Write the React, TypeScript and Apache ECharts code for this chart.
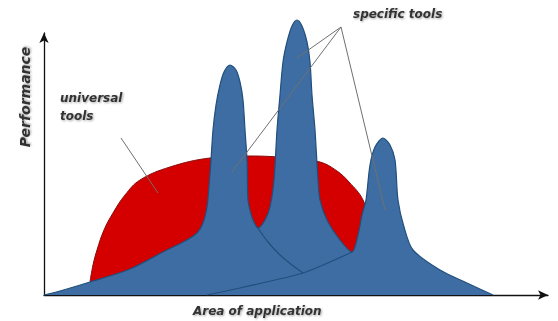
import React, { useEffect, useRef } from "react";
import * as echarts from "echarts";

// Universal tools (red dome): [area of application, performance]
const redX = [46, 49, 53, 60, 69, 81, 96, 126, 166, 206, 246, 276, 293, 305, 319, 328, 331];
const redY = [13, 30, 45, 65, 82, 100, 115, 128, 137, 139, 137, 133, 124, 113, 95, 65, 35];

// Specific tools (blue peaks) outline
const blueX = [0, 16, 46, 86, 119, 141, 153, 159, 163, 165, 167, 169, 172, 176, 180, 186, 192, 196, 199, 201, 203, 204, 207, 210, 214, 221, 226, 230, 233, 236, 239, 243, 248, 253, 258, 263, 266, 268, 271, 274, 276, 283, 296, 308, 314, 318, 322, 326, 331, 339, 346, 351, 354, 360, 369, 396, 423, 449];
const blueY = [0, 4, 13, 26, 43, 54, 62, 72, 88, 108, 135, 165, 190, 210, 223, 230, 225, 213, 195, 165, 135, 95, 81, 73, 67, 75, 88, 115, 165, 200, 233, 253, 269, 275, 269, 253, 233, 200, 165, 115, 95, 75, 55, 43, 60, 80, 95, 130, 148, 157, 150, 135, 95, 68, 45, 25, 12, 0];

// Inner outlines of overlapping peaks
const inner1X = [214, 224, 236, 248, 259];
const inner1Y = [67, 53, 40, 30, 22];
const inner2X = [163, 196, 231, 259, 286, 308];
const inner2Y = [0, 7, 15, 22, 33, 43];

// Annotation leader lines
const leaderUniversalX = [77, 114];
const leaderUniversalY = [157, 102];
const leaderSpecificX = [[297, 253], [297, 188], [297, 341]];
const leaderSpecificY = [[268, 237], [268, 123], [268, 85]];

const xTitle = "Area of application";
const yTitle = "Performance";
const universalLabel = ["universal", "tools"];
const specificLabel = "specific tools";

const zip = (xs: number[], ys: number[]) => xs.map((x, i) => [x, ys[i]]);

export default function App() {
  const ref = useRef<HTMLDivElement>(null);
  useEffect(() => {
    const chart = echarts.init(ref.current!, undefined, { renderer: "svg" });
    const font = "DejaVu Sans, Verdana, sans-serif";
    const txtStyle = {
      fontFamily: font,
      fontWeight: "bold" as const,
      fontStyle: "italic" as const,
      fontSize: 12,
      fill: "#333",
      textShadowColor: "rgba(0,0,0,0.35)",
      textShadowBlur: 2,
      textShadowOffsetX: 1,
      textShadowOffsetY: 1,
    };
    const leaders = leaderSpecificX.map((xs, i) => ({
      type: "line",
      data: zip(xs, leaderSpecificY[i]),
      showSymbol: false,
      clip: false,
      silent: true,
      lineStyle: { color: "#707070", width: 1 },
      z: 5,
    }));
    chart.setOption({
      animation: false,
      grid: { left: 44, right: 10, top: 33, bottom: 26 },
      xAxis: {
        type: "value",
        min: 0,
        max: 504,
        axisLine: { show: true, lineStyle: { color: "#111", width: 1.3 }, symbol: ["none", "arrow"], symbolSize: [7, 10] },
        axisTick: { show: false },
        axisLabel: { show: false },
        splitLine: { show: false },
      },
      yAxis: {
        type: "value",
        min: 0,
        max: 262,
        axisLine: { show: true, lineStyle: { color: "#111", width: 1.3 }, symbol: ["none", "arrow"], symbolSize: [7, 10] },
        axisTick: { show: false },
        axisLabel: { show: false },
        splitLine: { show: false },
      },
      series: [
        {
          type: "line",
          data: zip(redX, redY),
          smooth: 0.4,
          showSymbol: false,
          clip: false,
          lineStyle: { color: "#8a0c0c", width: 1 },
          areaStyle: { color: "#d40000", opacity: 1 },
          z: 1,
        },
        {
          type: "line",
          data: zip(blueX, blueY),
          smooth: 0.3,
          showSymbol: false,
          clip: false,
          lineStyle: { color: "#214f7d", width: 1.2 },
          areaStyle: { color: "#3d6da3", opacity: 1 },
          z: 2,
        },
        {
          type: "line",
          data: zip(inner1X, inner1Y),
          smooth: 0.4,
          showSymbol: false,
          clip: false,
          lineStyle: { color: "#214f7d", width: 1.2 },
          z: 3,
        },
        {
          type: "line",
          data: zip(inner2X, inner2Y),
          smooth: 0.4,
          showSymbol: false,
          clip: false,
          lineStyle: { color: "#214f7d", width: 1.2 },
          z: 3,
        },
        {
          type: "line",
          data: zip(leaderUniversalX, leaderUniversalY),
          showSymbol: false,
          clip: false,
          lineStyle: { color: "#707070", width: 1 },
          z: 5,
        },
        ...leaders,
      ],
      graphic: [
        { type: "text", left: 60, top: 92, style: { ...txtStyle, text: universalLabel[0] } },
        { type: "text", left: 60, top: 110, style: { ...txtStyle, text: universalLabel[1] } },
        { type: "text", left: 353, top: 8, style: { ...txtStyle, text: specificLabel } },
        { type: "text", left: 193, top: 305, style: { ...txtStyle, text: xTitle } },
        {
          type: "text",
          x: 25,
          y: 97,
          rotation: Math.PI / 2,
          style: { ...txtStyle, fontSize: 14, text: yTitle, align: "center", verticalAlign: "middle" },
        },
      ],
    });
    return () => chart.dispose();
  }, []);
  return <div ref={ref} style={{ width: 558, height: 321, position: "absolute", left: 0, top: 0 }} />;
}
